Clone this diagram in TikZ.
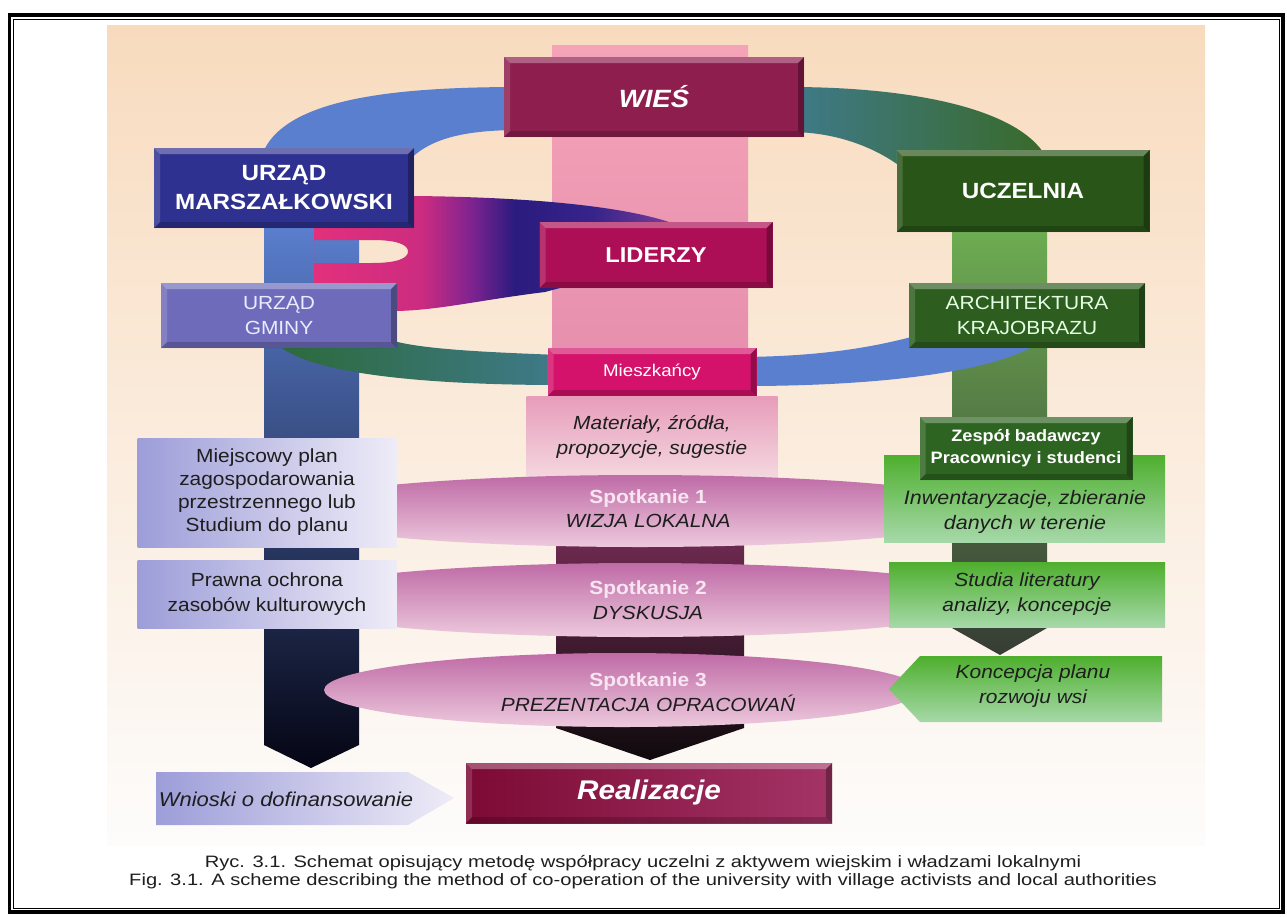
\documentclass[tikz,border=0pt]{standalone}
\usepackage{fontspec}
\setmainfont[FakeStretch=1.1]{Liberation Sans}
\newfontfamily\capfont[FakeStretch=1.22]{Liberation Sans}
\usepackage{tikz}
\usetikzlibrary{shapes.geometric}

\definecolor{peachtop}{HTML}{F8DBBE}
\definecolor{peachmid}{HTML}{FAE8DA}
\definecolor{peachbot}{HTML}{FDFCFB}
\definecolor{wiesc}{HTML}{8E1E4E}
\definecolor{marszc}{HTML}{2F3190}
\definecolor{uczc}{HTML}{2A5518}
\definecolor{lidc}{HTML}{AC0F55}
\definecolor{gminac}{HTML}{6E6CBA}
\definecolor{archc}{HTML}{2E5E1F}
\definecolor{mieszc}{HTML}{D4126B}
\definecolor{zespc}{HTML}{2E6421}
\definecolor{pinktop}{HTML}{F5A3B8}
\definecolor{pinkbot}{HTML}{E48DAD}
\definecolor{mattop}{HTML}{E79CB9}
\definecolor{matbot}{HTML}{F4D8E0}
\definecolor{lcolA}{HTML}{5A7ECD}
\definecolor{lcolB}{HTML}{26438F}
\definecolor{lcolC}{HTML}{050514}
\definecolor{rcolA}{HTML}{6DAC52}
\definecolor{rcolB}{HTML}{5B8E4A}
\definecolor{rcolC}{HTML}{373C35}
\definecolor{ccolA}{HTML}{8C3466}
\definecolor{ccolC}{HTML}{0E0A0C}
\definecolor{ringblue}{HTML}{5A7FCE}
\definecolor{ringteal}{HTML}{3F7A8A}
\definecolor{ringgreen}{HTML}{396A2A}
\definecolor{ringgreenB}{HTML}{2C6A3C}
\definecolor{meetA}{HTML}{BF6BA6}
\definecolor{meetB}{HTML}{D596C1}
\definecolor{meetC}{HTML}{EDC9DD}
\definecolor{lavA}{HTML}{9D9DD9}
\definecolor{lavB}{HTML}{EEECF7}
\definecolor{grnA}{HTML}{4EAF2D}
\definecolor{grnB}{HTML}{A6D9A9}
\definecolor{realA}{HTML}{7C0A34}
\definecolor{realB}{HTML}{A33466}
\definecolor{spotc}{HTML}{F7E6F2}
\definecolor{txt}{HTML}{1E1E1E}
\definecolor{lidA}{HTML}{E2307C}
\definecolor{lidB}{HTML}{CC2C80}
\definecolor{lidC}{HTML}{7E2390}
\definecolor{lidD}{HTML}{2B1B7E}
\definecolor{lidE}{HTML}{36248A}
\definecolor{lidF}{HTML}{7C3C96}

\pgfdeclarehorizontalshading{lidshade}{100bp}{color(0bp)=(lidA); color(25bp)=(lidA); color(40bp)=(lidB); color(47bp)=(lidC); color(53bp)=(lidD); color(64bp)=(lidE); color(75bp)=(lidF); color(100bp)=(lidF)}

\tikzset{
  bevel/.style={path picture={
    \fill[white,opacity=.3] (path picture bounding box.north west) -- (path picture bounding box.north east) -- ([shift={(-6pt,-6pt)}]path picture bounding box.north east) -- ([shift={(6pt,-6pt)}]path picture bounding box.north west) -- cycle;
    \fill[white,opacity=.15] (path picture bounding box.north west) -- ([shift={(6pt,-6pt)}]path picture bounding box.north west) -- ([shift={(6pt,6pt)}]path picture bounding box.south west) -- (path picture bounding box.south west) -- cycle;
    \fill[black,opacity=.3] (path picture bounding box.north east) -- (path picture bounding box.south east) -- ([shift={(-6pt,6pt)}]path picture bounding box.south east) -- ([shift={(-6pt,-6pt)}]path picture bounding box.north east) -- cycle;
    \fill[black,opacity=.2] (path picture bounding box.south west) -- (path picture bounding box.south east) -- ([shift={(-6pt,6pt)}]path picture bounding box.south east) -- ([shift={(6pt,6pt)}]path picture bounding box.south west) -- cycle;
  }},
  bigbox/.style={rectangle, inner sep=0pt, align=center, text=white, bevel},
  softbox/.style={rectangle, inner sep=0pt, align=center, text=txt},
  meeting/.style={top color=meetA, middle color=meetB, bottom color=meetC},
}

\begin{document}
\begin{tikzpicture}[x=1pt,y=-1pt]
\useasboundingbox (0,0) rectangle (1287,916);
\fill[white] (0,0) rectangle (1287,916);
\draw[line width=3.5pt] (9.5,15) rectangle (1283,912);
\draw[line width=1pt] (13.5,19) rectangle (1279,908);
\shade[top color=peachtop, middle color=peachmid, bottom color=peachbot] (107,25) rectangle (1205,845);

\shade[top color=pinktop, bottom color=pinkbot] (552,45) rectangle (748,398);
\shade[top color=ccolA, bottom color=ccolC] (556,470) -- (744,470) -- (744,728) -- (650,760) -- (556,728) -- cycle;
\shade[top color=lcolA, middle color=lcolB, bottom color=lcolC] (264,228) -- (359,228) -- (359,745) -- (311,768) -- (264,745) -- cycle;
\shade[top color=rcolA, middle color=rcolB, bottom color=rcolC] (952,232) -- (1047,232) -- (1047,628) -- (1000,655) -- (952,628) -- cycle;

\fill[ringblue] (262,155) .. controls (283,97) and (400,87) .. (520,87) -- (520,130) .. controls (460,130) and (425,140) .. (405,165) -- (380,205) -- (262,205) -- cycle;
\shade[left color=ringteal, right color=ringgreen] (790,87) .. controls (900,87) and (1010,105) .. (1043,152) -- (1043,200) -- (910,200) -- (905,170) .. controls (880,150) and (840,132) .. (790,132) -- cycle;
\shade[left color=ringgreenB, right color=ringteal] (282,340) -- (282,348) .. controls (320,376) and (440,385) .. (560,385) -- (560,355) .. controls (480,352) and (420,349) .. (390,340) -- cycle;
\fill[ringblue] (745,357) .. controls (820,356) and (870,348) .. (915,336) -- (915,325) -- (1030,325) -- (1030,348) .. controls (985,372) and (880,386) .. (745,386) -- cycle;

\shade[shading=lidshade, even odd rule] (314,200) -- (414,196) .. controls (520,197) and (620,205) .. (672,223) -- (672,262) -- (560,288) -- (545,292) .. controls (480,300) and (440,310) .. (397,311) -- (314,300) -- cycle
  (314,240) -- (372,240) .. controls (398,240) and (408,245) .. (408,251.5) .. controls (408,258) and (398,263) .. (372,263) -- (314,263) -- cycle;

\node[bigbox, fill=wiesc, minimum width=300pt, minimum height=80pt, font=\bfseries\itshape\fontsize{25}{28}\selectfont] (wies) at (654,97) {WIEŚ};
\node[bigbox, fill=marszc, minimum width=260pt, minimum height=80pt, font=\bfseries\fontsize{22}{29}\selectfont] (urzadM) at (284,188) {URZĄD\\MARSZAŁKOWSKI};
\node[bigbox, fill=uczc, minimum width=253pt, minimum height=82pt, font=\bfseries\fontsize{22}{26}\selectfont] (uczelnia) at (1023,191) {UCZELNIA};
\node[bigbox, fill=lidc, minimum width=233pt, minimum height=66pt, font=\bfseries\fontsize{21.5}{26}\selectfont] (liderzy) at (656,255) {LIDERZY};
\node[bigbox, fill=gminac, text=white!92!blue, minimum width=236pt, minimum height=65pt, font=\fontsize{19}{25}\selectfont] (urzadG) at (279,315.5) {URZĄD\\GMINY};
\node[bigbox, fill=archc, text=white!90!green, minimum width=236pt, minimum height=65pt, font=\fontsize{19}{25}\selectfont] (architektura) at (1027,315.5) {ARCHITEKTURA\\KRAJOBRAZU};
\node[bigbox, fill=mieszc, minimum width=209pt, minimum height=48pt, font=\fontsize{17}{20}\selectfont] (mieszkancy) at (652,372) {Mieszkańcy};
\node[softbox, top color=mattop, bottom color=matbot, minimum width=251pt, minimum height=82pt, font=\itshape\fontsize{19}{25}\selectfont] (materialy) at (652,437) {Materiały, źródła,\\propozycje, sugestie};

\shade[meeting] (640,511) ellipse [x radius=360, y radius=36];
\shade[meeting] (640,600) ellipse [x radius=360, y radius=37];
\shade[meeting] (622,690) ellipse [x radius=298, y radius=37];
\node[align=center, text=txt, font=\fontsize{19}{23.5}\selectfont] (spot1) at (648,508.5) {{\color{spotc}\bfseries Spotkanie 1}\\{\itshape WIZJA LOKALNA}};
\node[align=center, text=txt, font=\fontsize{19}{25}\selectfont] (spot2) at (648,600.5) {{\color{spotc}\bfseries Spotkanie 2}\\{\itshape DYSKUSJA}};
\node[align=center, text=txt, font=\fontsize{19}{25}\selectfont] (spot3) at (648,692.5) {{\color{spotc}\bfseries Spotkanie 3}\\{\itshape PREZENTACJA OPRACOWAŃ}};

\node[softbox, left color=lavA, right color=lavB, minimum width=259pt, minimum height=109pt, font=\fontsize{19}{23}\selectfont] (planM) at (267,492.5) {Miejscowy plan\\zagospodarowania\\przestrzennego lub\\Studium do planu};
\node[softbox, left color=lavA, right color=lavB, minimum width=259pt, minimum height=68pt, font=\fontsize{19}{25}\selectfont] (ochrona) at (267,594) {Prawna ochrona\\zasobów kulturowych};

\shade[top color=grnA, bottom color=grnB] (884,455) rectangle (1165,542);
\node[align=center, text=txt, font=\itshape\fontsize{19.5}{25}\selectfont] (inwent) at (1025,512) {Inwentaryzacje, zbieranie\\danych w terenie};
\node[bigbox, fill=zespc, minimum width=213pt, minimum height=63pt, font=\bfseries\fontsize{16.5}{22}\selectfont] (zespol) at (1026,448.5) {Zespół badawczy\\Pracownicy i studenci};
\node[softbox, top color=grnA, bottom color=grnB, minimum width=276pt, minimum height=65pt, font=\itshape\fontsize{19}{25}\selectfont] (studia) at (1027,594.5) {Studia literatury\\analizy, koncepcje};
\shade[top color=grnA, bottom color=grnB] (889,689) -- (920,656) -- (1162,656) -- (1162,722) -- (920,722) -- cycle;
\node[align=center, text=txt, font=\itshape\fontsize{19}{25}\selectfont] (koncepcja) at (1033,686) {Koncepcja planu\\rozwoju wsi};

\shade[left color=lavA, right color=lavB] (156,772) -- (408,772) -- (454,798) -- (408,825) -- (156,825) -- cycle;
\node[text=txt, font=\itshape\fontsize{20}{24}\selectfont] (wnioski) at (286,799) {Wnioski o dofinansowanie};
\node[bigbox, left color=realA, right color=realB, minimum width=366pt, minimum height=60pt, font=\bfseries\itshape\fontsize{27}{30}\selectfont] (realizacje) at (649,793) {Realizacje};

\node[align=center, text=txt, font=\capfont\fontsize{16.5}{18.5}\selectfont] (caption) at (643,872) {Ryc. 3.1. Schemat opisujący metodę współpracy uczelni z aktywem wiejskim i władzami lokalnymi\\Fig. 3.1. A scheme describing the method of co-operation of the university with village activists and local authorities};
\end{tikzpicture}
\end{document}
